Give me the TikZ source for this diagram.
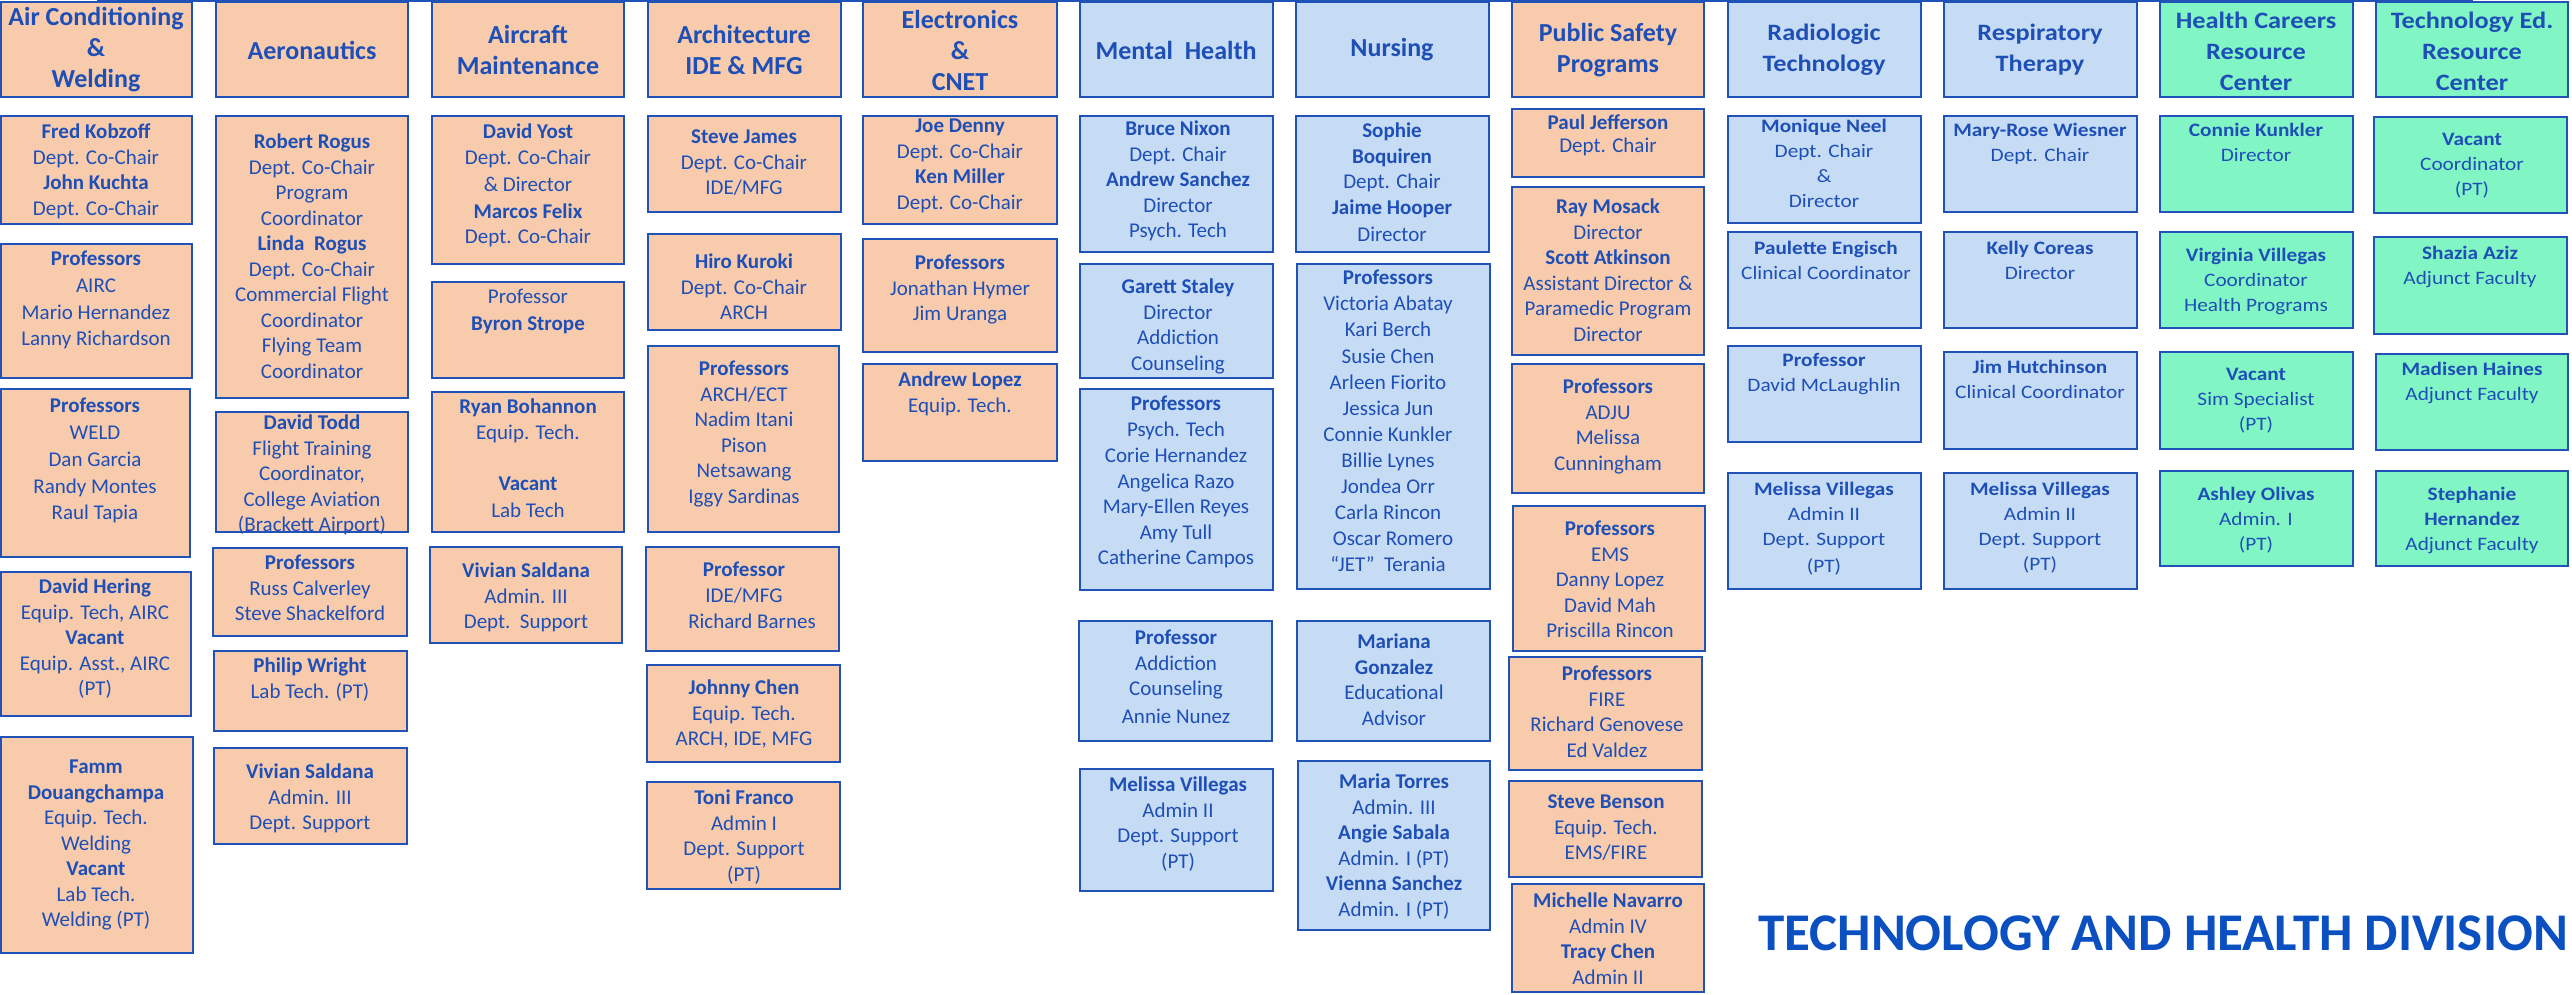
\documentclass[tikz,border=0pt]{standalone}
\usepackage{fontspec}
\setmainfont{Carlito}
\newfontfamily\wideface[FakeStretch=1.12]{Carlito}
\usepackage{xcolor}
\definecolor{peach}{HTML}{F8CBAD}
\definecolor{sky}{HTML}{C6DBF4}
\definecolor{mint}{HTML}{82F5C5}
\definecolor{edge}{HTML}{2152B8}
\definecolor{ink}{HTML}{1E4FB6}
\definecolor{titleblue}{HTML}{0B50C0}
\tikzstyle{obox}=[draw=edge, fill=peach, line width=2.5pt]
\tikzstyle{bbox}=[draw=edge, fill=sky, line width=2.5pt]
\tikzstyle{gbox}=[draw=edge, fill=mint, line width=2.5pt]
\tikzstyle{hd}=[text=ink, align=center, inner sep=0, font=\fontsize{26}{31}\selectfont\bfseries]
\tikzstyle{tx}=[text=ink, align=center, inner sep=0, anchor=north, yshift=8pt, font=\fontsize{21}{25.5}\selectfont]
\tikzstyle{whd}=[hd, font=\wideface\fontsize{23.5}{31}\selectfont\bfseries]
\tikzstyle{wtx}=[tx, yshift=-0.8pt, font=\wideface\fontsize{19}{25}\selectfont]
\tikzstyle{topline}=[draw=edge, line width=2pt]

\begin{document}
\begin{tikzpicture}[x=1pt, y=-1pt]
    \useasboundingbox (0,0) rectangle (2572,995);
    \coordinate (tl) at (97,1);
    \coordinate (tr) at (2473,1);
    \draw[topline] (tl) -- (tr);

    % air conditioning & welding
    \draw[obox] (1,2) rectangle (192,97);
    \node[hd] (acw) at (96,50) {Air Conditioning\\\&\\Welding};
    \draw[obox] (1,116) rectangle (192,224);
    \node[tx] (kob) at (96,132) {\textbf{Fred Kobzoff}\\Dept. Co-Chair\\\textbf{John Kuchta}\\Dept. Co-Chair};
    \draw[obox] (1,244) rectangle (192,378);
    \node[tx] (airc) at (96,259) {\textbf{Professors}\\[1.5pt]AIRC\\[1.5pt]Mario Hernandez\\Lanny Richardson};
    \draw[obox] (1,389) rectangle (190,557);
    \node[tx] (weld) at (95,406) {\textbf{Professors}\\[1.5pt]WELD\\[1.5pt]Dan Garcia\\[1.5pt]Randy Montes\\Raul Tapia};
    \draw[obox] (1,572) rectangle (191,716);
    \node[tx] (hering) at (95,587) {\textbf{David Hering}\\Equip. Tech, AIRC\\\textbf{Vacant}\\Equip. Asst., AIRC\\(PT)};
    \draw[obox] (1,737) rectangle (193,953);
    \node[tx] (famm) at (96,768) {\textbf{Famm}\\\textbf{Douangchampa}\\Equip. Tech.\\Welding\\\textbf{Vacant}\\Lab Tech.\\Welding (PT)};

    % aeronautics
    \draw[obox] (216,2) rectangle (408,97);
    \node[hd] (aero) at (312,50) {Aeronautics};
    \draw[obox] (216,116) rectangle (408,398);
    \node[tx] (rogus) at (312,142) {\textbf{Robert Rogus}\\Dept. Co-Chair\\Program\\Coordinator\\\textbf{Linda\ \ Rogus}\\Dept. Co-Chair\\Commercial Flight\\Coordinator\\Flying Team\\Coordinator};
    \draw[obox] (216,412) rectangle (408,532);
    \node[tx] (todd) at (312,423) {\textbf{David Todd}\\Flight Training\\Coordinator,\\College Aviation\\(Brackett Airport)};
    \draw[obox] (213,548) rectangle (407,636);
    \node[tx] (russ) at (310,563) {\textbf{Professors}\\Russ Calverley\\Steve Shackelford};
    \draw[obox] (214,651) rectangle (407,731);
    \node[tx] (wright) at (310,666) {\textbf{Philip Wright}\\Lab Tech. (PT)};
    \draw[obox] (214,748) rectangle (407,844);
    \node[tx] (saldA) at (310,772) {\textbf{Vivian Saldana}\\Admin. III\\Dept. Support};

    % aircraft maintenance
    \draw[obox] (432,2) rectangle (624,97);
    \node[hd] (acm) at (528,50) {Aircraft\\Maintenance};
    \draw[obox] (432,116) rectangle (624,264);
    \node[tx] (yost) at (528,132) {\textbf{David Yost}\\Dept. Co-Chair\\[1.5pt]\& Director\\[1.5pt]\textbf{Marcos Felix}\\Dept. Co-Chair};
    \draw[obox] (432,282) rectangle (624,378);
    \node[tx] (strope) at (528,297) {Professor\\[1.5pt]\textbf{Byron Strope}};
    \draw[obox] (432,392) rectangle (624,532);
    \node[tx] (bohan) at (528,407) {\textbf{Ryan Bohannon}\\Equip. Tech.\\\mbox{}\\\textbf{Vacant}\\[2pt]Lab Tech};
    \draw[obox] (430,547) rectangle (622,643);
    \node[tx] (saldB) at (526,571) {\textbf{Vivian Saldana}\\Admin. III\\Dept.\ \ Support};

    % architecture
    \draw[obox] (648,2) rectangle (841,97);
    \node[hd] (arch) at (744,50) {Architecture\\IDE \& MFG};
    \draw[obox] (648,116) rectangle (841,212);
    \node[tx] (james) at (744,138) {\textbf{Steve James}\\Dept. Co-Chair\\IDE/MFG};
    \draw[obox] (648,234) rectangle (841,330);
    \node[tx] (kuroki) at (744,262) {\textbf{Hiro Kuroki}\\Dept. Co-Chair\\ARCH};
    \draw[obox] (648,346) rectangle (839,532);
    \node[tx] (archp) at (744,369) {\textbf{Professors}\\ARCH/ECT\\Nadim Itani\\Pison\\Netsawang\\Iggy Sardinas};
    \draw[obox] (646,547) rectangle (839,651);
    \node[tx] (idep) at (744,570) {\textbf{Professor}\\IDE/MFG\\[1pt]\hspace{16pt}Richard Barnes};
    \draw[obox] (647,665) rectangle (840,762);
    \node[tx] (jchen) at (744,688) {\textbf{Johnny Chen}\\Equip. Tech.\\ARCH, IDE, MFG};
    \draw[obox] (647,782) rectangle (840,889);
    \node[tx] (franco) at (744,798) {\textbf{Toni Franco}\\Admin I\\Dept. Support\\(PT)};

    % electronics & cnet
    \draw[obox] (863,2) rectangle (1057,97);
    \node[hd] (elec) at (960,50) {Electronics\\\&\\CNET};
    \draw[obox] (863,116) rectangle (1057,224);
    \node[tx] (denny) at (960,127) {\textbf{Joe Denny}\\Dept. Co-Chair\\\textbf{Ken Miller}\\Dept. Co-Chair};
    \draw[obox] (863,239) rectangle (1057,352);
    \node[tx] (hymer) at (960,263) {\textbf{Professors}\\Jonathan Hymer\\Jim Uranga};
    \draw[obox] (863,364) rectangle (1057,461);
    \node[tx] (lopez) at (960,380) {\textbf{Andrew Lopez}\\Equip. Tech.};

    % mental health
    \draw[bbox] (1080,2) rectangle (1273,97);
    \node[hd] (mental) at (1176,50) {Mental\ \ Health};
    \draw[bbox] (1080,116) rectangle (1273,252);
    \node[tx] (nixon) at (1178,129) {\textbf{Bruce Nixon}\\Dept. Chair\\\textbf{Andrew Sanchez}\\Director\\Psych. Tech};
    \draw[bbox] (1080,264) rectangle (1273,378);
    \node[tx] (staley) at (1178,287) {\textbf{Garett Staley}\\Director\\Addiction\\Counseling};
    \draw[bbox] (1080,389) rectangle (1273,590);
    \node[tx] (psych) at (1176,404) {\textbf{Professors}\\Psych. Tech\\[1pt]Corie Hernandez\\Angelica Razo\\Mary-Ellen Reyes\\Amy Tull\\Catherine Campos};
    \draw[bbox] (1079,621) rectangle (1272,741);
    \node[tx] (addict) at (1176,638) {\textbf{Professor}\\Addiction\\Counseling\\[2pt]Annie Nunez};
    \draw[bbox] (1080,769) rectangle (1273,891);
    \node[tx] (villA) at (1178,785) {\textbf{Melissa Villegas}\\Admin II\\Dept. Support\\(PT)};

    % nursing
    \draw[bbox] (1296,2) rectangle (1489,97);
    \node[hd] (nursing) at (1392,50) {Nursing};
    \draw[bbox] (1296,116) rectangle (1489,252);
    \node[tx] (boquiren) at (1392,131) {\textbf{Sophie}\\\textbf{Boquiren}\\Dept. Chair\\\textbf{Jaime Hooper}\\[1.5pt]Director};
    \draw[bbox] (1297,264) rectangle (1490,589);
    \node[tx, font=\fontsize{21}{26.1}\selectfont] (nursp) at (1388,278) {\textbf{Professors}\\Victoria Abatay\\Kari Berch\\Susie Chen\\Arleen Fiorito\\Jessica Jun\\Connie Kunkler\\Billie Lynes\\Jondea Orr\\Carla Rincon\\\hspace{10pt}Oscar Romero\\“JET”\ \ Terania};
    \draw[bbox] (1297,621) rectangle (1490,741);
    \node[tx] (gonz) at (1394,642) {\textbf{Mariana}\\\textbf{Gonzalez}\\Educational\\Advisor};
    \draw[bbox] (1298,761) rectangle (1490,930);
    \node[tx] (torres) at (1394,782) {\textbf{Maria Torres}\\Admin. III\\\textbf{Angie Sabala}\\Admin. I (PT)\\\textbf{Vienna Sanchez}\\Admin. I (PT)};

    % public safety
    \draw[obox] (1512,2) rectangle (1704,97);
    \node[hd] (pubsaf) at (1608,50) {Public Safety\\Programs};
    \draw[obox] (1512,109) rectangle (1704,177);
    \node[tx, font=\fontsize{21}{23}\selectfont] (jeff) at (1608,123) {\textbf{Paul Jefferson}\\Dept. Chair};
    \draw[obox] (1512,187) rectangle (1704,355);
    \node[tx] (mosack) at (1608,207) {\textbf{Ray Mosack}\\Director\\\textbf{Scott Atkinson}\\Assistant Director \&\\Paramedic Program\\Director};
    \draw[obox] (1512,364) rectangle (1704,493);
    \node[tx] (adju) at (1608,387) {\textbf{Professors}\\ADJU\\Melissa\\Cunningham};
    \draw[obox] (1513,506) rectangle (1705,651);
    \node[tx] (ems) at (1610,529) {\textbf{Professors}\\EMS\\Danny Lopez\\David Mah\\Priscilla Rincon};
    \draw[obox] (1509,657) rectangle (1702,770);
    \node[tx] (fire) at (1607,674) {\textbf{Professors}\\FIRE\\Richard Genovese\\Ed Valdez};
    \draw[obox] (1509,781) rectangle (1702,877);
    \node[tx] (benson) at (1606,803) {\textbf{Steve Benson}\\Equip. Tech.\\EMS/FIRE};
    \draw[obox] (1512,884) rectangle (1704,992);
    \node[tx] (navarro) at (1608,901) {\textbf{Michelle Navarro}\\Admin IV\\\textbf{Tracy Chen}\\Admin II};

    % radiologic technology
    \draw[bbox] (1728,2) rectangle (1921,97);
    \node[whd] (radio) at (1824,50) {Radiologic\\Technology};
    \draw[bbox] (1728,116) rectangle (1921,223);
    \node[wtx] (neel) at (1824,126) {\textbf{Monique Neel}\\Dept. Chair\\\&\\Director};
    \draw[bbox] (1728,232) rectangle (1921,328);
    \node[wtx] (engisch) at (1826,248) {\textbf{Paulette Engisch}\\Clinical Coordinator};
    \draw[bbox] (1728,346) rectangle (1921,442);
    \node[wtx] (mclau) at (1824,360) {\textbf{Professor}\\David McLaughlin};
    \draw[bbox] (1728,473) rectangle (1921,589);
    \node[wtx] (villB) at (1824,489) {\textbf{Melissa Villegas}\\Admin II\\Dept. Support\\[2pt](PT)};

    % respiratory therapy
    \draw[bbox] (1944,2) rectangle (2137,97);
    \node[whd] (resp) at (2040,50) {Respiratory\\Therapy};
    \draw[bbox] (1944,116) rectangle (2137,212);
    \node[wtx] (wiesner) at (2040,130) {\textbf{Mary-Rose Wiesner}\\Dept. Chair};
    \draw[bbox] (1944,232) rectangle (2137,328);
    \node[wtx] (coreas) at (2040,248) {\textbf{Kelly Coreas}\\Director};
    \draw[bbox] (1944,352) rectangle (2137,449);
    \node[wtx] (hutch) at (2040,367) {\textbf{Jim Hutchinson}\\Clinical Coordinator};
    \draw[bbox] (1944,473) rectangle (2137,589);
    \node[wtx] (villC) at (2040,489) {\textbf{Melissa Villegas}\\Admin II\\Dept. Support\\(PT)};

    % health careers resource center
    \draw[gbox] (2160,2) rectangle (2353,97);
    \node[whd] (hcrc) at (2256,51) {Health Careers\\Resource\\Center};
    \draw[gbox] (2160,116) rectangle (2353,212);
    \node[wtx] (kunkler) at (2256,130) {\textbf{Connie Kunkler}\\Director};
    \draw[gbox] (2160,232) rectangle (2353,328);
    \node[wtx] (villD) at (2256,255) {\textbf{Virginia Villegas}\\Coordinator\\Health Programs};
    \draw[gbox] (2160,352) rectangle (2353,449);
    \node[wtx] (simsp) at (2256,375) {\textbf{Vacant}\\Sim Specialist\\(PT)};
    \draw[gbox] (2160,471) rectangle (2353,566);
    \node[wtx] (olivas) at (2256,494) {\textbf{Ashley Olivas}\\Admin. I\\(PT)};

    % technology ed. resource center
    \draw[gbox] (2376,2) rectangle (2568,97);
    \node[whd] (terc) at (2472,51) {Technology Ed.\\Resource\\Center};
    \draw[gbox] (2374,117) rectangle (2567,213);
    \node[wtx] (coord) at (2472,140) {\textbf{Vacant}\\Coordinator\\(PT)};
    \draw[gbox] (2374,237) rectangle (2567,334);
    \node[wtx] (aziz) at (2470,253) {\textbf{Shazia Aziz}\\Adjunct Faculty};
    \draw[gbox] (2376,354) rectangle (2568,450);
    \node[wtx] (haines) at (2472,369) {\textbf{Madisen Haines}\\Adjunct Faculty};
    \draw[gbox] (2376,471) rectangle (2568,566);
    \node[wtx] (hernz) at (2472,494) {\textbf{Stephanie}\\\textbf{Hernandez}\\Adjunct Faculty};

    \node[anchor=base west, inner sep=0, text=titleblue, font=\fontsize{53}{60}\selectfont\bfseries] (division) at (1758,950) {TECHNOLOGY AND HEALTH DIVISION};
\end{tikzpicture}
\end{document}
